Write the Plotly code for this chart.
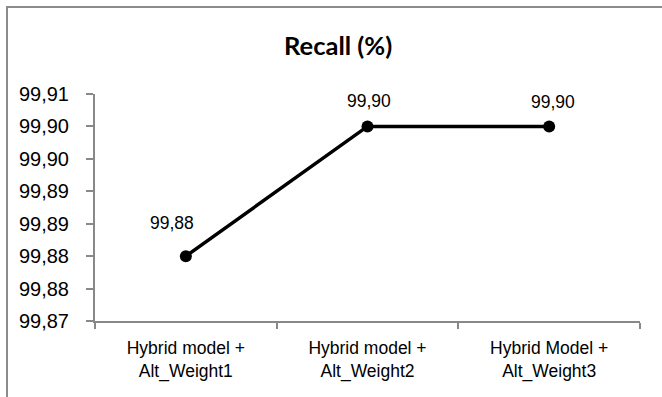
import plotly.graph_objects as go

# Recall per model variant
categories = ["Hybrid model +<br>Alt_Weight1",
              "Hybrid model +<br>Alt_Weight2",
              "Hybrid Model +<br>Alt_Weight3"]
recall = [99.88, 99.90, 99.90]

# Y-axis ticks (two-decimal labels with comma separator)
tick_values = [99.870, 99.875, 99.880, 99.885, 99.890, 99.895, 99.900, 99.905]
tick_labels = ["99,87", "99,88", "99,88", "99,89", "99,89", "99,90", "99,90", "99,91"]

title_text = "Recall (%)"

SANS = "Liberation Sans, Arial, sans-serif"
GRAY = "#888888"

W, H = 662, 397
L, R, T, B = 95, 22, 94, 76
pw, ph = W - L - R, H - T - B


def px_to_paper(xp, yp):
    return (xp - L) / pw, 1 - (yp - T) / ph


fig = go.Figure()
fig.add_trace(go.Scatter(
    x=categories, y=recall,
    mode="lines+markers",
    line=dict(color="#000000", width=3.5),
    marker=dict(color="#000000", size=12),
    showlegend=False, hoverinfo="skip",
))

# value labels above each point
label_shift = [(-14, 33), (1, 25), (4, 24)]
for cat, val, (dx, dy) in zip(categories, recall, label_shift):
    fig.add_annotation(
        x=cat, y=val, xref="x", yref="y",
        text=f"{val:.2f}".replace(".", ","),
        showarrow=False, xshift=dx, yshift=dy,
        font=dict(family=SANS, size=17.5, color="#000000"),
    )

# chart title
tx, ty = px_to_paper(338, 45)
fig.add_annotation(
    x=tx, y=ty, xref="paper", yref="paper",
    xanchor="center", yanchor="middle",
    text=f"<b>{title_text}</b>", showarrow=False,
    font=dict(family="Lato, sans-serif", size=25.5, color="#000000"),
)

# chart-area border
x0, y0 = px_to_paper(7, 7)
x1, y1 = px_to_paper(W + 30, H + 30)
fig.add_shape(type="rect", xref="paper", yref="paper",
              x0=x0, y0=y1, x1=x1, y1=y0,
              line=dict(color="#8c8c8c", width=2), fillcolor="rgba(0,0,0,0)",
              layer="below")

fig.update_layout(
    width=W, height=H,
    margin=dict(l=L, r=R, t=T, b=B, pad=0),
    paper_bgcolor="#ffffff", plot_bgcolor="#ffffff",
    separators=",.",
)
fig.update_xaxes(
    type="category", range=[-0.5, 2.5],
    showline=True, linecolor=GRAY, linewidth=2,
    showgrid=False, zeroline=False,
    ticks="outside", tickson="boundaries", ticklen=6, tickcolor=GRAY, tickwidth=2,
    ticklabelstandoff=10,
    tickfont=dict(family=SANS, size=17.5, color="#000000"),
)
fig.update_yaxes(
    range=[99.87, 99.905],
    tickvals=tick_values, ticktext=tick_labels,
    showline=True, linecolor=GRAY, linewidth=2,
    showgrid=False, zeroline=False,
    ticks="outside", ticklen=7, tickcolor=GRAY, tickwidth=2,
    ticklabelstandoff=13,
    tickfont=dict(family=SANS, size=20, color="#000000"),
)

fig.write_html("out.html")
